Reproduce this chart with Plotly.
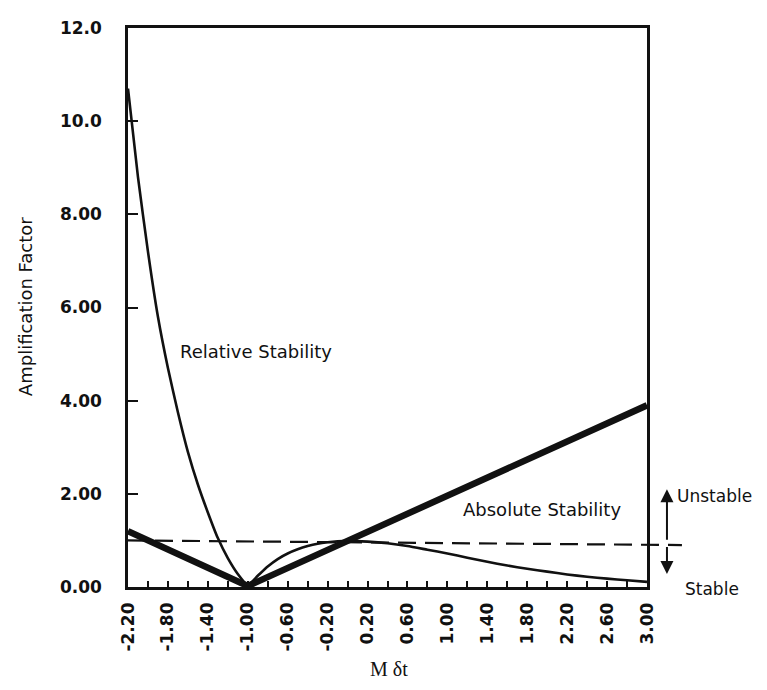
import plotly.graph_objects as go

# ---- data ----
REL_X = [-2.2, -2.1, -2.0, -1.9, -1.8, -1.7, -1.6, -1.5, -1.4, -1.3, -1.2, -1.1, -1.0,
         -0.9, -0.8, -0.7, -0.6, -0.5, -0.4, -0.3, -0.2, -0.1, 0.0,
         0.2, 0.4, 0.6, 0.8, 1.0, 1.2, 1.4, 1.6, 1.8, 2.0, 2.2, 2.4, 2.6, 2.8, 3.0]
REL_Y = [10.7, 8.8, 7.2, 5.8, 4.7, 3.75, 2.9, 2.2, 1.6, 1.05, 0.62, 0.28, 0.04,
         0.24, 0.44, 0.6, 0.72, 0.81, 0.88, 0.93, 0.96, 0.98, 0.99,
         0.975, 0.94, 0.88, 0.80, 0.72, 0.63, 0.54, 0.46, 0.39, 0.33, 0.27, 0.22, 0.18, 0.145, 0.11]

ABS_X = [-2.2, -1.0, 3.0]
ABS_Y = [1.2, 0.02, 3.9]

DASH_X = [-2.2, 3.35]
DASH_Y = [1.0, 0.9]

X_TICKS = [-2.2, -1.8, -1.4, -1.0, -0.6, -0.2, 0.2, 0.6, 1.0, 1.4, 1.8, 2.2, 2.6, 3.0]
X_LABELS = ["-2.20", "-1.80", "-1.40", "-1.00", "-0.60", "-0.20", "0.20", "0.60",
            "1.00", "1.40", "1.80", "2.20", "2.60", "3.00"]
Y_TICKS = [0, 2, 4, 6, 8, 10, 12]
Y_LABELS = ["0.00", "2.00", "4.00", "6.00", "8.00", "10.0", "12.0"]

X_RANGE = [-2.2, 3.0]
Y_RANGE = [0, 12]

UNSTABLE_ARROW = [3.2, 1.0, 2.1]   # x, from y, to y
STABLE_ARROW = [3.2, 0.88, 0.28]


def px(x):
    return (x - X_RANGE[0]) / (X_RANGE[1] - X_RANGE[0])


def py(y):
    return (y - Y_RANGE[0]) / (Y_RANGE[1] - Y_RANGE[0])


SANS = "DejaVu Sans, Liberation Sans, Arial, sans-serif"
SERIF = "Liberation Serif, Times New Roman, serif"
BLK = "#111111"
H = 569.0  # plot-area height in px

fig = go.Figure()
fig.add_trace(go.Scatter(x=REL_X, y=REL_Y, mode="lines",
                         line=dict(color=BLK, width=2.6, shape="spline", smoothing=0.5),
                         hoverinfo="skip", showlegend=False))
fig.add_trace(go.Scatter(x=ABS_X, y=ABS_Y, mode="lines", line=dict(color=BLK, width=6.5),
                         hoverinfo="skip", showlegend=False))

shapes = [dict(type="line", xref="paper", yref="paper",
               x0=px(DASH_X[0]), x1=px(DASH_X[1]), y0=py(DASH_Y[0]), y1=py(DASH_Y[1]),
               line=dict(color=BLK, width=2.2, dash="18px,9px"))]

annotations = [
    dict(xref="x", yref="y", x=-0.92, y=5.06, text="Relative Stability", showarrow=False,
         xanchor="center", yanchor="middle", font=dict(family=SANS, size=18, color=BLK)),
    dict(xref="x", yref="y", x=1.95, y=1.66, text="Absolute Stability", showarrow=False,
         xanchor="center", yanchor="middle", font=dict(family=SANS, size=18, color=BLK)),
    dict(xref="paper", yref="paper", x=px(UNSTABLE_ARROW[0]), y=py(UNSTABLE_ARROW[2]),
         ax=0, ay=(UNSTABLE_ARROW[2] - UNSTABLE_ARROW[1]) / 12 * H, axref="pixel", ayref="pixel",
         text="", showarrow=True, arrowhead=2, arrowsize=1.3, arrowwidth=2, arrowcolor=BLK),
    dict(xref="paper", yref="paper", x=px(STABLE_ARROW[0]), y=py(STABLE_ARROW[2]),
         ax=0, ay=(STABLE_ARROW[2] - STABLE_ARROW[1]) / 12 * H, axref="pixel", ayref="pixel",
         text="", showarrow=True, arrowhead=2, arrowsize=1.3, arrowwidth=2, arrowcolor=BLK),
    dict(xref="paper", yref="paper", x=px(3.28), y=py(1.95), xanchor="left", yanchor="middle",
         text="Unstable", showarrow=False, font=dict(family=SANS, size=17, color=BLK)),
    dict(xref="paper", yref="paper", x=px(3.36), y=py(-0.05), xanchor="left", yanchor="middle",
         text="Stable", showarrow=False, font=dict(family=SANS, size=17, color=BLK)),
    dict(xref="paper", yref="paper", x=-0.197, y=0.502, text="Amplification Factor", textangle=-90,
         xanchor="center", yanchor="middle",
         showarrow=False, font=dict(family=SANS, size=18, color=BLK)),
    dict(xref="paper", yref="paper", x=0.503, y=-0.147, text="M δt",
         xanchor="center", yanchor="middle",
         showarrow=False, font=dict(family=SERIF, size=20, color=BLK)),
]

# the page body has an 8px margin, so the figure is sized and offset for it
fig.update_layout(
    width=751, height=674,
    margin=dict(l=120, r=112, t=10, b=95),
    paper_bgcolor="white", plot_bgcolor="white",
    shapes=shapes, annotations=annotations,
    showlegend=False,
)
fig.update_xaxes(range=X_RANGE, tickmode="array", tickvals=X_TICKS, ticktext=X_LABELS,
                 tickangle=-90, ticks="inside", ticklen=6, tickwidth=2, tickcolor=BLK,
                 minor=dict(dtick=0.2, tick0=-2.2, ticks="inside", ticklen=6, tickwidth=2, tickcolor=BLK),
                 showline=True, linewidth=2.5, linecolor=BLK, mirror=True, showgrid=False, zeroline=False,
                 ticklabelstandoff=6,
                 tickfont=dict(family=SANS, size=17, color=BLK, weight="bold"))
fig.update_yaxes(range=Y_RANGE, tickmode="array", tickvals=Y_TICKS, ticktext=Y_LABELS,
                 ticks="inside", ticklen=10, tickwidth=2, tickcolor=BLK,
                 showline=True, linewidth=2.5, linecolor=BLK, mirror=True, showgrid=False, zeroline=False,
                 ticklabelstandoff=20,
                 tickfont=dict(family=SANS, size=17, color=BLK, weight="bold"))

fig.write_html("out.html")
